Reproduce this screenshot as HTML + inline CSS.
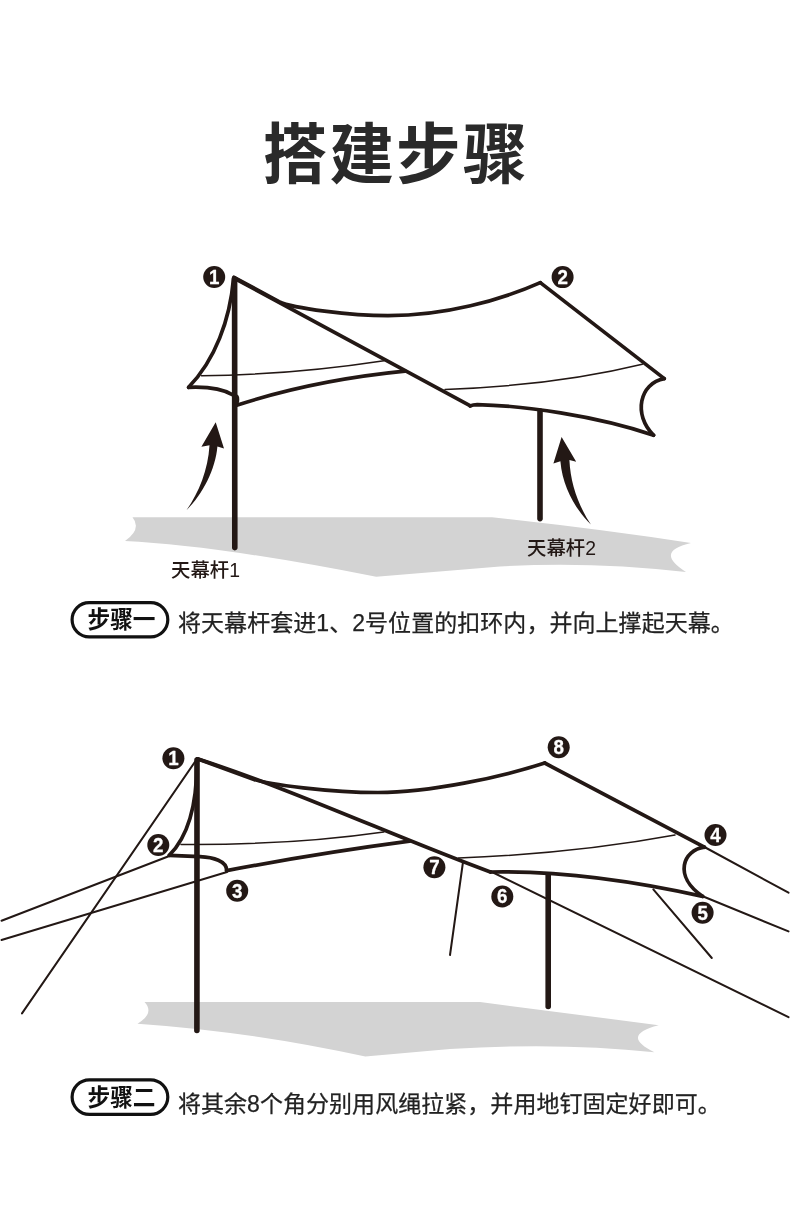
<!DOCTYPE html>
<html lang="zh-CN">
<head>
<meta charset="utf-8">
<title>搭建步骤</title>
<style>
*{margin:0;padding:0;box-sizing:border-box}
html,body{width:790px;height:1221px;background:#fff;overflow:hidden}
body{position:relative;font-family:"Liberation Sans","Noto Sans CJK SC",sans-serif;color:#231815}
#art{position:absolute;left:0;top:0;width:790px;height:1221px;display:block;will-change:transform}
.title{position:absolute;left:0;top:105.7px;width:790px;text-align:center;font-size:64.5px;letter-spacing:2.2px;padding-left:2.2px;line-height:100px;font-weight:700;color:#2a2a2a;white-space:nowrap;transform:scale(1,1.02);transform-origin:50% 50%}
.pill{position:absolute;left:70.5px;width:99px;height:37.4px;font-size:22.7px;font-weight:700;line-height:39.4px;text-align:center;padding-left:2px;transform:scale(1,1.04);color:#111;white-space:nowrap;will-change:transform}
.desc{position:absolute;left:178px;font-size:23px;line-height:38.8px;color:#222;-webkit-text-stroke:0.25px #222;white-space:nowrap;will-change:transform}
.lbl{position:absolute;font-weight:500;font-size:19.4px;line-height:24px;color:#231815;white-space:nowrap;will-change:transform}
.s{fill:none;stroke:#231815;stroke-linecap:round;stroke-linejoin:round}
.n{font-family:"Liberation Sans",sans-serif;font-weight:700;font-size:19.5px;fill:#fff;stroke:#fff;stroke-width:0.3px;stroke-linejoin:round;text-anchor:middle}
</style>
</head>
<body>
<svg id="art" viewBox="0 0 790 1221" width="790" height="1221">
<!-- STEP 1 -->
<g id="step1">
<path fill="#d3d3d3" d="M132.5,517.3 L492,517.3 Q600,529 691,543 Q653.5,551.5 686,572 Q590,561 500,566.5 L376.2,576.8 Q218,545.5 125,541 Q142,529 132.5,517.3 Z"/>
<g class="s" stroke-width="3.7">
<path d="M233.6,278 C230,320 215,360 188.6,387.3"/>
<path d="M188.6,387.3 C207,386.5 224,389.5 233,395"/>
<path d="M237.5,405 Q315,380 405,371.2"/>
<path d="M234,278 L470.4,405.8"/>
<path d="M234,277.3 L279,301.7 C293,308.2 350,315.7 388,315.7 C445,315.7 500.3,300.3 540.3,282.6"/>
<path d="M540.3,282.6 L664.3,378.6"/>
<path d="M664.3,378.6 C639.5,383 632.8,414.9 653.6,435.2"/>
<path d="M470.2,405.9 Q473,404.7 477.2,404.6 C523,405.6 595.1,415.4 653.6,435.2"/>
</g>
<g class="s" stroke-width="1.5">
<path d="M201.5,375.7 Q290,375 384,360.7"/>
<path d="M445,389.4 Q555,385.5 642.3,364.2"/>
</g>
<g class="s" stroke-width="5.6">
<path d="M234.6,279 L234.8,547.6"/><ellipse cx="236.4" cy="399.6" rx="2.9" ry="5" fill="#231815" stroke="none"/>
<path d="M540,411 L540,518.6"/>
</g>
<path fill="#231815" d="M215.7,422.3 L224,448.6 L217.4,446.6 C215.5,469 203,494 186.5,510.2 C199,492 208,470 209.5,445.3 L201.4,446.8 Z"/>
<path fill="#231815" d="M561.6,436.9 L576.2,461.8 L569.4,460 C570.5,483 578,505 590.9,524.6 C576,510 562.5,487 560.4,461.2 L553.4,463.4 Z"/>
<circle cx="214.2" cy="277" r="11" fill="#231815"/><text class="n" transform="translate(214.2,283.8) scale(0.96,1)">1</text>
<circle cx="562.6" cy="277.1" r="11" fill="#231815"/><text class="n" transform="translate(562.6,283.9) scale(0.96,1)">2</text>
</g>
<rect x="72.1" y="602.7" width="95.7" height="34.2" rx="17.1" fill="#fff" stroke="#111" stroke-width="3.2"/>
<rect x="72.1" y="1079.8" width="95.7" height="34.6" rx="17.3" fill="#fff" stroke="#111" stroke-width="3.2"/>
<!-- STEP 2 -->
<g id="step2">
<path fill="#d3d3d3" d="M144.5,1002 L480,1002 L658.7,1025.2 Q619.5,1035.3 654.4,1052.3 Q560,1042 450,1049 L365.3,1056.6 Q250,1031.5 137.5,1023.7 Q155,1013 144.5,1002 Z"/>
<g class="s" stroke-width="2">
<path d="M195,761.8 L22,1013.4"/>
<path d="M170,855.8 L1.5,920.7"/>
<path d="M227,872 L1.5,940"/>
<path d="M704.4,847 L788.5,892.7"/>
<path d="M702.7,896.3 L788.5,931.4"/>
<path d="M490,871 L788.5,1017.2"/>
<path d="M463,862 L450,955"/>
<path d="M653.3,889.4 L711.8,958"/>
</g>
<g class="s" stroke-width="3.7">
<path d="M196.8,760 C197.3,800 190.5,834 169.3,855.3"/>
<path d="M169.3,855.3 L200,856.6 C213,857.2 227,861 226.6,870.6"/>
<path d="M226.6,870.6 Q320,853 409.5,841.2"/>
<path d="M197.3,758.8 C291.4,788.9 399.2,838.6 490.4,872"/>
<path d="M197.3,758.8 L254,779.4 C268,784.3 330,792.5 378,792.5 C430,792.5 500,777.5 544.7,763"/>
<path d="M544.7,763 L704.4,847.2"/>
<path d="M704.4,847.2 C683.3,850 672.7,875.7 702.7,896.4"/>
<path d="M490.4,872 C552,870.7 618.2,877.6 702.7,896.4"/>
</g>
<g class="s" stroke-width="1.5">
<path d="M181,844.4 Q290,845.3 383.8,831.9"/>
<path d="M458.5,858 Q575,853.5 675,835"/>
</g>
<g class="s" stroke-width="5.6">
<path d="M197,760 L196.9,1030.5"/>
<path d="M548.2,875 L548.2,1006.5"/>
</g>
<circle cx="173.4" cy="758.3" r="11" fill="#231815"/><text class="n" transform="translate(173.4,765.1) scale(0.96,1)">1</text>
<circle cx="158.3" cy="845" r="11" fill="#231815"/><text class="n" transform="translate(158.3,851.8) scale(0.96,1)">2</text>
<circle cx="237.2" cy="890.7" r="11" fill="#231815"/><text class="n" transform="translate(237.2,897.5) scale(0.96,1)">3</text>
<circle cx="715.5" cy="835" r="11" fill="#231815"/><text class="n" transform="translate(715.5,841.8) scale(0.96,1)">4</text>
<circle cx="702.6" cy="912.7" r="11" fill="#231815"/><text class="n" transform="translate(702.6,919.5) scale(0.96,1)">5</text>
<circle cx="502.3" cy="896.5" r="11" fill="#231815"/><text class="n" transform="translate(502.3,903.3) scale(0.96,1)">6</text>
<circle cx="434.4" cy="867.3" r="11" fill="#231815"/><text class="n" transform="translate(434.4,874.1) scale(0.96,1)">7</text>
<circle cx="558.7" cy="747.3" r="11" fill="#231815"/><text class="n" transform="translate(558.7,754.1) scale(0.96,1)">8</text>
</g>
</svg>
<div class="title">搭建步骤</div>
<div class="lbl" style="left:171px;top:558px">天幕杆1</div>
<div class="lbl" style="left:527px;top:535.6px">天幕杆2</div>
<div class="pill" style="top:601.1px">步骤一</div>
<div class="desc" style="top:604px;letter-spacing:0.05px">将天幕杆套进1、2号位置的扣环内，并向上撑起天幕。</div>
<div class="pill" style="top:1078.6px">步骤二</div>
<div class="desc" style="top:1085px;letter-spacing:0.04px">将其余8个角分别用风绳拉紧，并用地钉固定好即可。</div>
</body>
</html>
